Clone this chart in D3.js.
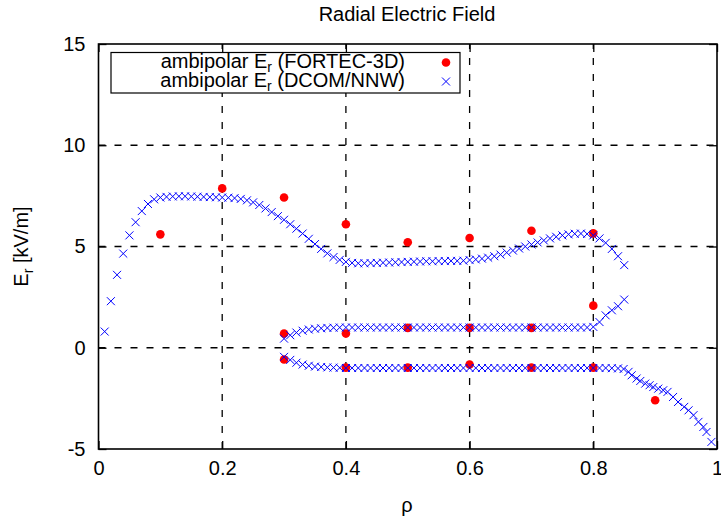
<!DOCTYPE html>
<html>
  <head>
    <meta charset="utf-8" />
    <title>Radial Electric Field</title>
    <script type="text/javascript" src="https://d3js.org/d3.v7.min.js"></script>
    <style>
      body { margin: 0; background: #fff; }
      text { font-family: "Liberation Sans", Arial, sans-serif; fill: #000; }
    </style>
  </head>
  <body>
    <div id="chart"></div>
    <script>
// tick values
const xTicks = [0, 0.2, 0.4, 0.6, 0.8, 1];
const xTickLabels = ["0", "0.2", "0.4", "0.6", "0.8", "1"];
const yTicks = [-5, 0, 5, 10, 15];
const yTickLabels = ["-5", "0", "5", "10", "15"];

// FORTEC-3D ambipolar roots [rho, Er]
const fortec = [
  [0.1, 5.6], [0.2, 7.87], [0.3, 7.42], [0.3, 0.7], [0.3, -0.58],
  [0.4, 6.1], [0.4, 0.7], [0.4, -0.98],
  [0.5, 5.21], [0.5, 0.98], [0.5, -0.98],
  [0.6, 5.42], [0.6, 0.98], [0.6, -0.83],
  [0.7, 5.78], [0.7, 0.98], [0.7, -0.98],
  [0.8, 5.65], [0.8, 2.08], [0.8, -0.98],
  [0.9, -2.59]
];

// DCOM/NNW roots, upper (electron) branch
const nnwUpper = [
  [0.01, 0.8], [0.02, 2.3], [0.03, 3.6], [0.04, 4.65], [0.05, 5.55],
  [0.06, 6.2], [0.07, 6.75], [0.08, 7.1], [0.09, 7.33], [0.10, 7.42],
  [0.11, 7.45], [0.12, 7.47], [0.13, 7.48], [0.14, 7.48], [0.15, 7.47],
  [0.16, 7.46], [0.17, 7.45], [0.18, 7.44], [0.19, 7.43], [0.20, 7.42],
  [0.21, 7.41], [0.22, 7.39], [0.23, 7.35], [0.24, 7.28], [0.25, 7.18],
  [0.26, 7.05], [0.27, 6.88], [0.28, 6.7], [0.29, 6.5], [0.30, 6.32],
  [0.31, 6.1], [0.32, 5.88], [0.33, 5.64], [0.34, 5.38], [0.35, 5.12],
  [0.36, 4.88], [0.37, 4.66], [0.38, 4.48], [0.39, 4.34], [0.40, 4.24],
  [0.41, 4.19], [0.42, 4.17], [0.43, 4.17], [0.44, 4.18], [0.45, 4.19],
  [0.46, 4.2], [0.47, 4.21], [0.48, 4.22], [0.49, 4.23], [0.50, 4.24],
  [0.51, 4.25], [0.52, 4.26], [0.53, 4.27], [0.54, 4.27], [0.55, 4.28],
  [0.56, 4.28], [0.57, 4.29], [0.58, 4.29], [0.59, 4.3], [0.60, 4.33],
  [0.61, 4.36], [0.62, 4.4], [0.63, 4.45], [0.64, 4.52], [0.65, 4.6],
  [0.66, 4.7], [0.67, 4.8], [0.68, 4.9], [0.69, 5.0], [0.70, 5.1],
  [0.71, 5.2], [0.72, 5.3], [0.73, 5.4], [0.74, 5.48], [0.75, 5.55],
  [0.76, 5.6], [0.77, 5.63], [0.78, 5.64], [0.79, 5.62], [0.80, 5.55],
  [0.81, 5.4], [0.82, 5.18], [0.83, 4.88], [0.84, 4.52], [0.85, 4.08]
];

// DCOM/NNW roots, unstable middle branch
const nnwMiddle = [
  [0.30, 0.45], [0.31, 0.62], [0.32, 0.75], [0.33, 0.84], [0.34, 0.9],
  [0.35, 0.94], [0.36, 0.96], [0.37, 0.98], [0.38, 0.99], [0.39, 1.0],
  [0.40, 1.0], [0.41, 1.0], [0.42, 1.0], [0.43, 1.0], [0.44, 1.0],
  [0.45, 1.0], [0.46, 1.0], [0.47, 1.0], [0.48, 1.0], [0.49, 1.0],
  [0.50, 1.0], [0.51, 1.0], [0.52, 1.0], [0.53, 1.0], [0.54, 1.0],
  [0.55, 1.0], [0.56, 1.0], [0.57, 1.0], [0.58, 1.0], [0.59, 1.0],
  [0.60, 1.0], [0.61, 1.0], [0.62, 1.0], [0.63, 1.0], [0.64, 1.0],
  [0.65, 1.0], [0.66, 1.0], [0.67, 1.0], [0.68, 1.0], [0.69, 1.0],
  [0.70, 1.0], [0.71, 1.0], [0.72, 1.0], [0.73, 1.0], [0.74, 1.0],
  [0.75, 1.0], [0.76, 1.0], [0.77, 1.0], [0.78, 1.0], [0.79, 1.0],
  [0.80, 1.03], [0.81, 1.27], [0.82, 1.6], [0.83, 1.85], [0.84, 2.05],
  [0.85, 2.38]
];

// DCOM/NNW roots, lower (ion) branch
const nnwLower = [
  [0.30, -0.45], [0.31, -0.6], [0.32, -0.74], [0.33, -0.83], [0.34, -0.89],
  [0.35, -0.93], [0.36, -0.95], [0.37, -0.97], [0.38, -0.98], [0.39, -0.99],
  [0.40, -1.0], [0.41, -1.0], [0.42, -1.0], [0.43, -1.0], [0.44, -1.0],
  [0.45, -1.0], [0.46, -1.0], [0.47, -1.0], [0.48, -1.0], [0.49, -1.0],
  [0.50, -1.0], [0.51, -1.0], [0.52, -1.0], [0.53, -1.0], [0.54, -1.0],
  [0.55, -1.0], [0.56, -1.0], [0.57, -1.0], [0.58, -1.0], [0.59, -1.0],
  [0.60, -1.0], [0.61, -1.0], [0.62, -1.0], [0.63, -1.0], [0.64, -1.0],
  [0.65, -1.0], [0.66, -1.0], [0.67, -1.0], [0.68, -1.0], [0.69, -1.0],
  [0.70, -1.0], [0.71, -1.0], [0.72, -1.0], [0.73, -1.0], [0.74, -1.0],
  [0.75, -1.0], [0.76, -1.0], [0.77, -1.0], [0.78, -1.0], [0.79, -1.0],
  [0.80, -1.0], [0.81, -1.0], [0.82, -1.0], [0.83, -1.01], [0.84, -1.02],
  [0.849, -1.05], [0.857, -1.19], [0.862, -1.36], [0.870, -1.52], [0.876, -1.64],
  [0.884, -1.77], [0.891, -1.85], [0.897, -1.94], [0.905, -2.02], [0.913, -2.1],
  [0.920, -2.18], [0.929, -2.43], [0.937, -2.68], [0.947, -2.92], [0.954, -3.09],
  [0.962, -3.33], [0.970, -3.66], [0.978, -3.91], [0.983, -4.16], [0.991, -4.65]
];

const nnw = nnwUpper.concat(nnwMiddle, nnwLower);

const width = 721, height = 523;
const margin = { left: 98.5, right: 4, top: 44, bottom: 74 };
const fontSize = "20px";

const svg = d3.select("#chart").append("svg")
  .attr("width", width)
  .attr("height", height);

const x = d3.scaleLinear().domain([0, 1]).range([margin.left, width - margin.right]);
const y = d3.scaleLinear().domain([-5, 15]).range([height - margin.bottom, margin.top]);

// grid
const grid = svg.append("g")
  .attr("stroke", "#000")
  .attr("stroke-width", 1.3)
  .attr("stroke-dasharray", "7,9");
grid.selectAll(".gx").data(xTicks.slice(1, -1)).join("line")
  .attr("x1", d => x(d)).attr("x2", d => x(d))
  .attr("y1", y(-5)).attr("y2", y(15));
grid.selectAll(".gy").data(yTicks.slice(1, -1)).join("line")
  .attr("y1", d => y(d)).attr("y2", d => y(d))
  .attr("x1", x(0)).attr("x2", x(1));

// axes, ticks pointing inwards on all four sides
const tickLen = 8;
const xAxisB = d3.axisBottom(x).tickValues(xTicks).tickSize(-tickLen).tickFormat((d, i) => xTickLabels[i]).tickPadding(12);
const xAxisT = d3.axisTop(x).tickValues(xTicks).tickSize(-tickLen).tickFormat("");
const yAxisL = d3.axisLeft(y).tickValues(yTicks).tickSize(-tickLen).tickFormat((d, i) => yTickLabels[i]).tickPadding(13);
const yAxisR = d3.axisRight(y).tickValues(yTicks).tickSize(-tickLen).tickFormat("");

const axes = [
  [xAxisB, `translate(0,${y(-5)})`],
  [xAxisT, `translate(0,${y(15)})`],
  [yAxisL, `translate(${x(0)},0)`],
  [yAxisR, `translate(${x(1)},0)`]
];
axes.forEach(([ax, tr]) => {
  const g = svg.append("g").attr("transform", tr).call(ax);
  g.select(".domain").remove();
  g.selectAll("line").attr("stroke", "#000").attr("stroke-width", 1.3);
  g.selectAll("text").style("font-size", fontSize).style("font-family", "Liberation Sans, Arial, sans-serif");
});

// frame
svg.append("rect")
  .attr("x", x(0)).attr("y", y(15))
  .attr("width", x(1) - x(0)).attr("height", y(-5) - y(15))
  .attr("fill", "none").attr("stroke", "#000").attr("stroke-width", 1.6);

// legend
const legend = svg.append("g");
legend.append("rect")
  .attr("x", 111).attr("y", 52.5).attr("width", 349).attr("height", 40.5)
  .attr("fill", "#fff").attr("stroke", "#000").attr("stroke-width", 1.2);
const legendItems = ["FORTEC-3D", "DCOM/NNW"];
legendItems.forEach((name, i) => {
  const t = legend.append("text")
    .attr("x", 405).attr("y", 68 + i * 19)
    .attr("text-anchor", "end")
    .style("font-size", fontSize);
  t.append("tspan").text("ambipolar E");
  t.append("tspan").attr("dy", 4).style("font-size", "14px").text("r");
  t.append("tspan").attr("dy", -4).text(" (" + name + ")");
});

// FORTEC-3D points
svg.append("g").selectAll("circle").data(fortec).join("circle")
  .attr("cx", d => x(d[0])).attr("cy", d => y(d[1]))
  .attr("r", 4.3).attr("fill", "#ff0000");
legend.append("circle").attr("cx", 446).attr("cy", 62.5).attr("r", 4.3).attr("fill", "#ff0000");

// DCOM/NNW crosses
const cross = (g, cx, cy) => {
  const s = 4;
  g.append("path")
    .attr("d", `M${cx - s},${cy - s}L${cx + s},${cy + s}M${cx - s},${cy + s}L${cx + s},${cy - s}`)
    .attr("stroke", "#0000ff").attr("stroke-width", 1).attr("fill", "none");
};
const crossG = svg.append("g");
nnw.forEach(d => cross(crossG, x(d[0]), y(d[1])));
cross(legend, 446, 81.5);

// title and axis labels
svg.append("text")
  .attr("x", 407).attr("y", 21)
  .attr("text-anchor", "middle")
  .style("font-size", fontSize)
  .text("Radial Electric Field");

svg.append("text")
  .attr("x", 407).attr("y", 512)
  .attr("text-anchor", "middle")
  .style("font-size", fontSize)
  .text("ρ");

const yl = svg.append("text")
  .attr("transform", `translate(28,${(y(15) + y(-5)) / 2}) rotate(-90)`)
  .attr("text-anchor", "middle")
  .style("font-size", fontSize);
yl.append("tspan").text("E");
yl.append("tspan").attr("dy", 5).style("font-size", "14px").text("r");
yl.append("tspan").attr("dy", -5).text(" [kV/m]");
    </script>
  </body>
</html>
